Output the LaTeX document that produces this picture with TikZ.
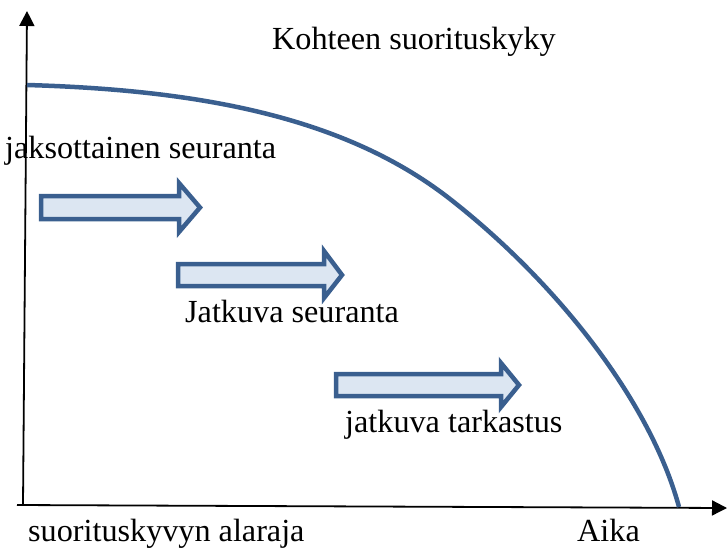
\documentclass[tikz,border=0pt]{standalone}
\usepackage{fontspec}
\setmainfont{Liberation Serif}
\usetikzlibrary{arrows.meta}
\definecolor{curveblue}{RGB}{58,95,143}
\definecolor{arrowfill}{RGB}{220,230,242}
\tikzset{
  axis/.style={line width=1.8pt,-{Triangle[length=15pt,width=15pt]}},
  blockarrow/.style={draw=curveblue,fill=arrowfill,line width=4.5pt,line join=miter},
  lbl/.style={font=\fontsize{32.2}{36}\selectfont,inner sep=0pt,anchor=base west}
}
\begin{document}
\begin{tikzpicture}[x=1pt,y=-1pt]
\useasboundingbox (0,0) rectangle (727,549);
% axes
\coordinate (o) at (23,505);
\coordinate (ytop) at (27,11);
\coordinate (xl) at (17,505);
\coordinate (xr) at (727,508);
\draw[axis] (o) -- (ytop);
\draw[axis] (xl) -- (xr);
% curve
\coordinate (c0) at (27,85);
\coordinate (cm) at (450,199);
\coordinate (c1) at (679,507);
\draw[curveblue,line width=4.5pt]
  (c0) .. controls (200,90) and (345,117) .. (cm)
       .. controls (555,281) and (650,400) .. (c1);
% block arrows
\draw[blockarrow] (41,196) -- (179,196) -- (179,183) -- (200,207.5) -- (179,232) -- (179,219) -- (41,219) -- cycle;
\draw[blockarrow] (178,264) -- (324,264) -- (324,251) -- (342,275) -- (324,298) -- (324,286) -- (178,286) -- cycle;
\draw[blockarrow] (336,374) -- (501,374) -- (501,363) -- (519,385) -- (501,407) -- (501,396) -- (336,396) -- cycle;
% labels
\node[lbl] (title) at (272,49) {Kohteen suorituskyky};
\node[lbl] (l1) at (5,158) {jaksottainen seuranta};
\node[lbl] (l2) at (185,322) {Jatkuva seuranta};
\node[lbl] (l3) at (345,432) {jatkuva tarkastus};
\node[lbl] (l4) at (28,541) {suorituskyvyn alaraja};
\node[lbl] (l5) at (577,541) {Aika};
\end{tikzpicture}
\end{document}
